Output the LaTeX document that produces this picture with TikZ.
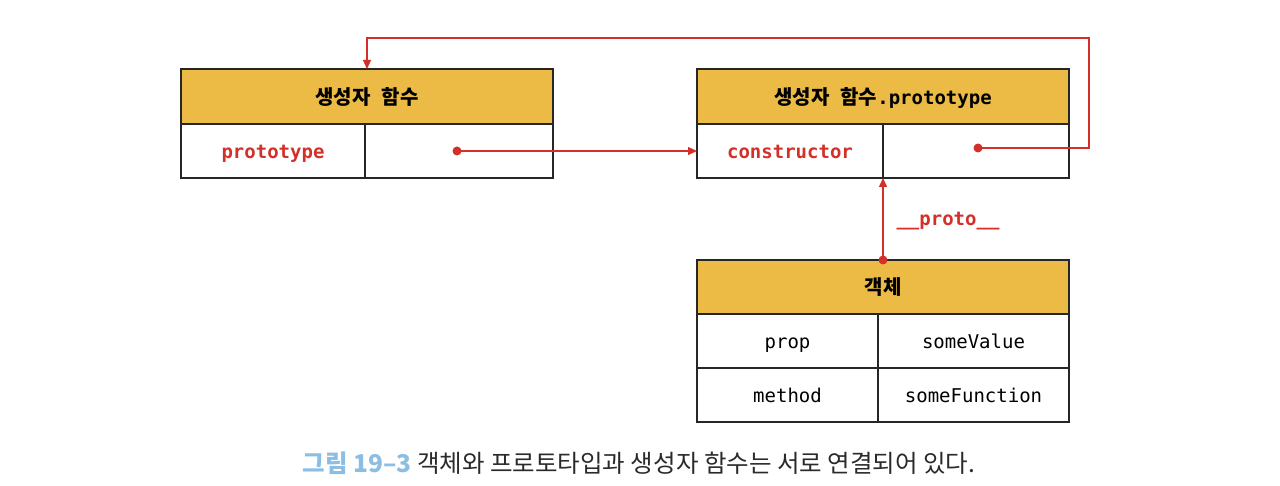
\documentclass[tikz,border=0pt]{standalone}
\usepackage{fontspec}
\setmonofont{DejaVu Sans Mono}
\newfontfamily\kr{Noto Sans CJK KR}
\usetikzlibrary{arrows.meta}
\definecolor{hdr}{HTML}{EBBB45}
\definecolor{rd}{HTML}{D3302A}
\definecolor{cap}{HTML}{8CBDE2}
\definecolor{captxt}{HTML}{2A2A2A}
\begin{document}
\begin{tikzpicture}[x=1pt,y=-1pt,
  cell/.style={draw=black!85, line width=1.3pt, inner sep=0pt, outer sep=0pt, minimum height=54pt, text height=18pt, text depth=3pt},
  head/.style={cell, fill=hdr, minimum width=372pt, font=\kr\bfseries\fontsize{20}{24}\selectfont, text height=19pt, text depth=3pt},
  key/.style={font=\ttfamily\bfseries\fontsize{19}{22}\selectfont, text=rd},
  val/.style={font=\ttfamily\fontsize{19}{22}\selectfont},
  dot/.style={circle, fill=rd, inner sep=0pt, minimum size=9pt},
  link/.style={draw=rd, line width=1.3pt, -{Triangle[length=9pt,width=8pt]}}]
\useasboundingbox (0,0) rectangle (1280,486);
% box 1
\node[head, minimum height=55pt] (h1) at (367,96.5) {생성자\hspace{0.55em}함수};
\node[cell, minimum width=184pt, key] (c1l) at (273,151) {prototype};
\node[cell, minimum width=188pt] (c1r) at (459,151) {};
% box 2
\node[head, minimum height=55pt] (h2) at (883,96.5) {생성자\hspace{0.55em}함수{\ttfamily\fontsize{19}{22}\selectfont .prototype}};
\node[cell, minimum width=186pt, key] (c2l) at (790,151) {constructor};
\node[cell, minimum width=186pt] (c2r) at (976,151) {};
% box 3
\node[head] (h3) at (883,287) {객체};
\node[cell, minimum width=181pt, val] (p1) at (787.5,341) {prop};
\node[cell, minimum width=191pt, val] (v1) at (973.5,341) {someValue};
\node[cell, minimum width=181pt, val] (p2) at (787.5,395) {method};
\node[cell, minimum width=191pt, val] (v2) at (973.5,395) {someFunction};
% dots
\node[dot] (d1) at (457,151) {};
\node[dot] (d2) at (978,148) {};
\node[dot] (d3) at (h3.north) {};
\coordinate (r) at (1089,38);
% connectors
\draw[link] (d1.center) -- (c2l.west);
\draw[link] (d2.center) -| (r) -| (h1.north);
\draw[link] (d3.center) -- (c2l.south east);
\node[key, anchor=center] (lp) at (948,221) {\_\_proto\_\_};
% caption
\node (cp) at (639,463) {\kr\fontsize{24.5}{28}\selectfont{\bfseries\color{cap}그림 19–3} \color{captxt}객체와 프로토타입과 생성자 함수는 서로 연결되어 있다.};
\end{tikzpicture}
\end{document}
